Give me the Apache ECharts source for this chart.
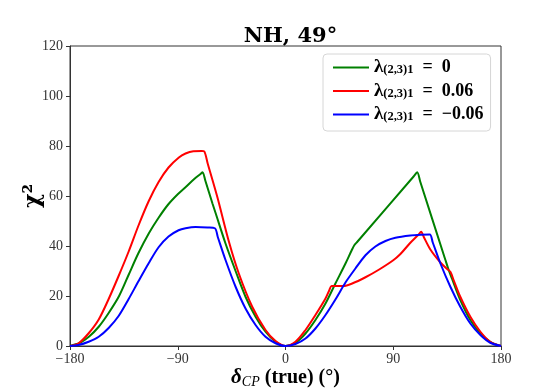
<!doctype html>
<html lang="en">
<head>
    <meta charset="UTF-8">
    <title>NH, 49°</title>
    <script src="https://cdn.jsdelivr.net/npm/echarts@6/dist/echarts.min.js"></script>
    <style>
        body{ margin:0; background:#fff; }
    </style>
</head>
<body>
<div id="main" style="width: 556px;height:389px;"></div>
<script>
    // values
    var greenX = [-180, -172, -164, -156, -148, -139, -131, -123, -114, -106, -98, -90, -84, -76, -71, -69.3, -67,
        -61, -58.4, -50.1, -41.7, -33.4, -25, -16.7, -8.3, 0,
        8.3, 16.7, 25, 33.4, 41.7, 50.1, 55.5, 57.6, 60, 107, 110, 112.5, 133.5, 136.3, 139, 146, 154.4, 162.8, 171, 180];
    var greenY = [0, 1.2, 3.8, 7.7, 13, 20, 28.5, 37, 45.2, 51.3, 56.6, 60.7, 63.3, 66.9, 68.8, 69.5, 66.2,
        57, 53.2, 41, 30, 19.7, 11.7, 5.7, 1.7, 0,
        1.3, 5, 10.4, 17, 25, 33, 38.5, 40.4, 41.7, 67.8, 69.5, 65.8, 34.5, 30.4, 27, 18.4, 10.4, 5, 1.7, 0];

    var redX = [-180, -172.8, -164.4, -156, -147.7, -139.4, -131, -122.7, -114.4, -106, -97.7, -89.3, -83.5, -77, -70, -67.8, -65,
        -57, -47.3, -39, -27.8, -16.7, -8.3, 0,
        8.3, 16.7, 25, 33.4, 36.5, 38.4, 41, 48.4, 55.7, 66.8, 77.9, 90, 96, 104.3, 111, 113.3, 115.5, 121, 129.4, 135, 137.7, 140.5,
        146, 154.4, 162.8, 171, 180];
    var redY = [0, 1.1, 5.1, 10.6, 18.8, 28, 37.8, 48.3, 57.8, 65.6, 71.4, 75.3, 77, 77.9, 78, 77.8, 73,
        59.7, 41.8, 29, 15.7, 6.4, 2, 0,
        1.7, 6.4, 12.4, 19, 22.2, 24, 24, 24, 25, 27.5, 30.5, 34.3, 36.8, 41.3, 44.5, 45.7, 43.6, 38.6, 33.4, 30.8, 29.7, 26.3,
        19.7, 11.7, 5.7, 1.7, 0];

    var blueX = [-180, -172.8, -164.4, -156, -147.7, -139.4, -131, -122.7, -114.4, -106, -97.7, -89.3, -83.5, -75.1, -65, -59, -56.5,
        -50.1, -41.7, -33.4, -25, -16.7, -8.3, 0,
        8.3, 16.7, 25, 33.4, 41.7, 50.1, 58.4, 66.8, 75.1, 83.5, 91.8, 104.3, 113, 120.5, 123, 129.4, 137.7, 146, 154.4, 162.8, 171, 180];
    var blueY = [0, 0.4, 1.7, 3.7, 7.2, 12, 18.8, 26, 33, 39.5, 43.8, 46.3, 47.1, 47.6, 47.4, 47.1, 43.5,
        34.4, 23.7, 15, 8.4, 3.7, 1.1, 0,
        0.8, 3, 7, 12.4, 18.6, 25.4, 31, 36.3, 39.8, 42, 43.3, 44.2, 44.5, 44.6, 41.4, 33, 23.7, 15.7, 9, 4.4, 1.3, 0];

    var names = ['0', '0.06', '\u22120.06'];
    var colors = ['#008000', '#ff0000', '#0000ff'];

    function pairs(xs, ys) {
        return xs.map(function (x, i) { return [x, ys[i]]; });
    }

    var myChart = echarts.init(document.getElementById('main'));
    var serif = 'Liberation Serif';
    var option = {
        animation: false,
        title: {
            text: 'NH, 49°',
            left: 285.5,
            textAlign: 'center',
            top: 21,
            textStyle: { fontFamily: 'DejaVu Serif', fontWeight: 'bold', fontSize: 21, color: '#000' }
        },
        color: colors,
        legend: {
            orient: 'vertical',
            left: 323,
            top: 54,
            padding: [4, 7, 7, 9],
            itemWidth: 36,
            itemHeight: 14,
            itemGap: 4.5,
            itemStyle: { opacity: 0 },
            backgroundColor: '#fff',
            borderColor: '#d6d6d6',
            borderWidth: 1,
            borderRadius: 4,
            data: names,
            formatter: function (n) {
                return '{l|λ}{s|(2,3)1}{t|\u2002=\u2002' + n + '}';
            },
            textStyle: {
                color: '#000',
                rich: {
                    l: { fontFamily: serif, fontWeight: 'bold', fontSize: 19, lineHeight: 17 },
                    s: { fontFamily: serif, fontWeight: 'bold', fontSize: 12.5, lineHeight: 12, padding: [5, 0, 0, 0] },
                    t: { fontFamily: serif, fontWeight: 'bold', fontSize: 18, lineHeight: 17 }
                }
            }
        },
        grid: {
            left: 70,
            right: 55,
            top: 46,
            bottom: 43,
            outerBoundsMode: 'none',
            show: true,
            borderColor: '#333',
            borderWidth: 1
        },
        xAxis: {
            type: 'value',
            min: -180,
            max: 180,
            interval: 90,
            name: '{d|δ}{s|CP}{t| (true) (°)}',
            nameLocation: 'middle',
            nameGap: 21,
            nameMoveOverlap: false,
            nameTextStyle: {
                color: '#000',
                rich: {
                    d: { fontFamily: serif, fontWeight: 'bold', fontStyle: 'italic', fontSize: 21 },
                    s: { fontFamily: serif, fontStyle: 'italic', fontSize: 14, padding: [8, 0, 0, 0] },
                    t: { fontFamily: serif, fontWeight: 'bold', fontSize: 20 }
                }
            },
            axisLine: { lineStyle: { color: '#333', width: 1 } },
            axisTick: { length: 4, lineStyle: { color: '#333' } },
            axisLabel: {
                margin: 6,
                fontFamily: serif,
                fontSize: 14,
                color: '#333',
                formatter: function (v) { return v < 0 ? '\u2212' + (-v) : String(v); }
            },
            splitLine: { show: false }
        },
        yAxis: {
            type: 'value',
            min: 0,
            max: 120,
            interval: 20,
            name: 'χ²',
            nameLocation: 'middle',
            nameGap: 26,
            nameMoveOverlap: false,
            nameRotate: 90,
            nameTextStyle: { fontFamily: 'DejaVu Serif', fontWeight: 'bold', fontSize: 22, color: '#000' },
            axisLine: { show: true, onZero: false, lineStyle: { color: '#333', width: 1 } },
            axisTick: { show: true, length: 4, lineStyle: { color: '#333' } },
            axisLabel: { margin: 7, fontFamily: serif, fontSize: 14, color: '#333' },
            splitLine: { show: false }
        },
        series: [
            { name: names[0], type: 'line', symbol: 'none', smooth: 0.3, lineStyle: { width: 2 }, data: pairs(greenX, greenY) },
            { name: names[1], type: 'line', symbol: 'none', smooth: 0.3, lineStyle: { width: 2 }, data: pairs(redX, redY) },
            { name: names[2], type: 'line', symbol: 'none', smooth: 0.3, lineStyle: { width: 2 }, data: pairs(blueX, blueY) }
        ]
    };
    myChart.setOption(option);
</script>
</body>
</html>
